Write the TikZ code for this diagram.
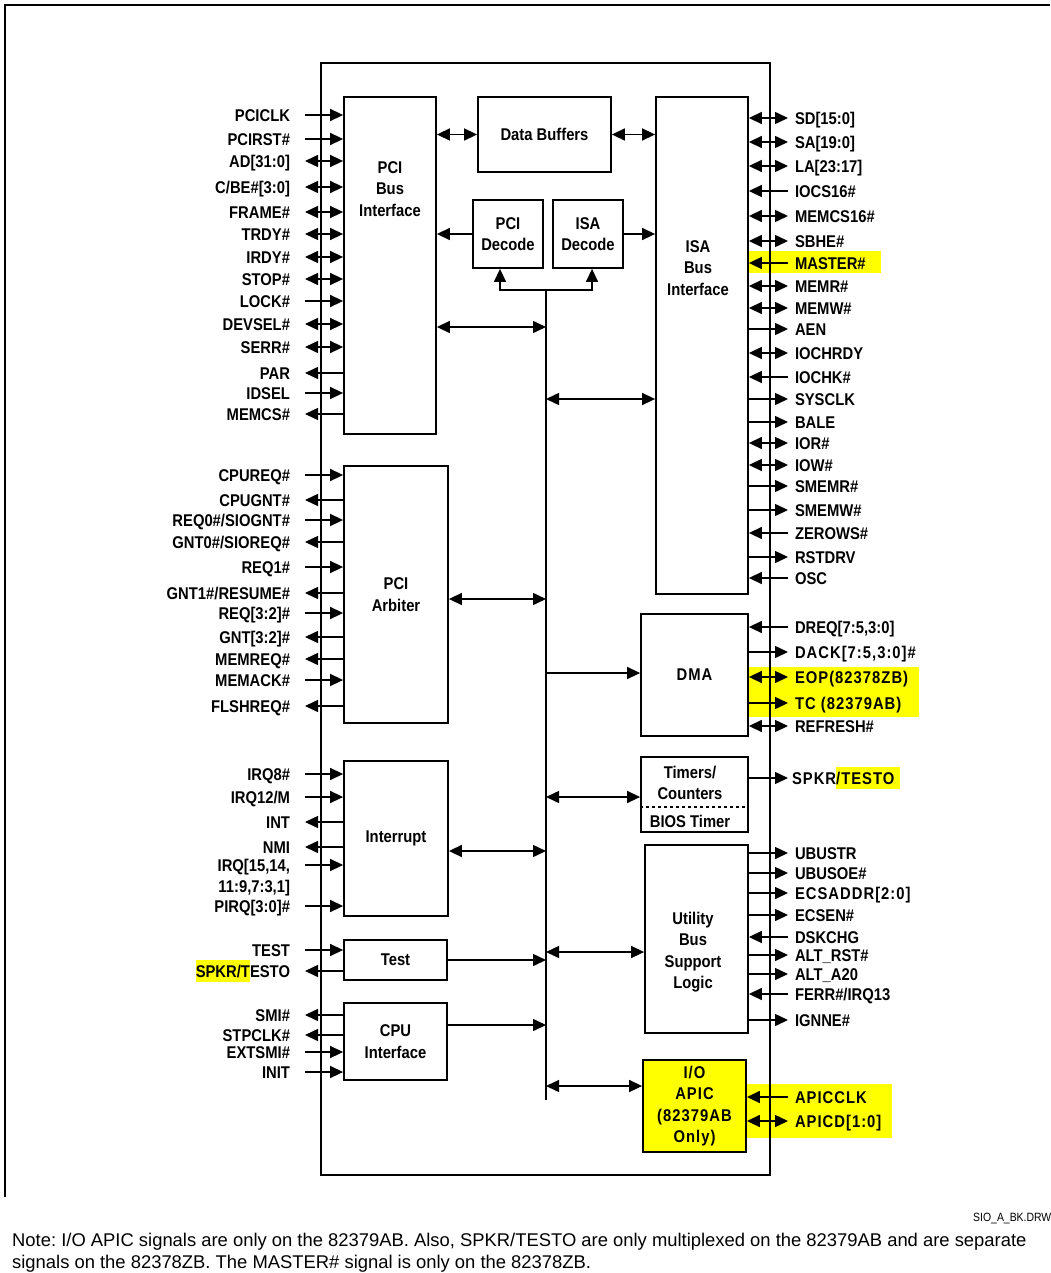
\documentclass[tikz,border=0pt]{standalone}
\usepackage{fontspec}
\setmainfont{Liberation Sans}[FakeStretch=0.87]
\newfontfamily\spaced{Liberation Sans}[FakeStretch=0.87,LetterSpace=6]
\newfontfamily\notefont{Liberation Sans}
\usetikzlibrary{arrows.meta,positioning}
\definecolor{hlyellow}{RGB}{255,255,0}
\newcommand\hlbox[1]{{\setlength\fboxsep{0pt}\colorbox{hlyellow}{\rule[-5pt]{0pt}{22pt}#1}}}
\frenchspacing

\begin{document}
\begin{tikzpicture}[
		x=1pt, y=-1pt,
		>={Triangle[length=13pt,width=12pt]},
		every node/.style={font=\fontsize{17}{21.5}\selectfont\bfseries, align=center},
		box/.style={draw, line width=1.8pt, inner sep=0pt},
		conn/.style={line width=1.5pt},
		lpin/.style={anchor=east, inner sep=0pt, outer ysep=0pt, outer xsep=15pt, text height=12.2pt, text depth=0pt},
		rpin/.style={anchor=west, inner sep=0pt, outer ysep=0pt, outer xsep=7pt, text height=12.2pt, text depth=0pt},
		notetxt/.style={anchor=base west, inner sep=0pt, font=\fontsize{18.4}{22}\selectfont\notefont}
		]
		\useasboundingbox (0,0) rectangle (1050,1273);
		
		% highlighted areas
		\fill[hlyellow] (749,251) rectangle (881,273);
		\fill[hlyellow] (749,667) rectangle (919,717);
		\fill[hlyellow] (747,1084) rectangle (892,1138);
		
		% frames
		\draw[line width=1.8pt] (5,1197) -- (5,5) -- (1050,5);
		\draw[line width=1.6pt] (321,63) rectangle (770,1175);
		
		% blocks
		\node[box, minimum width=92, minimum height=337] (pcibus) at (390,265.5) {};
		\node (pcibustxt) at (390,189) {PCI\\Bus\\Interface};
		\node[box, minimum width=133, minimum height=75] (databuf) at (544.5,134.5) {Data Buffers};
		\node[box, minimum width=70, minimum height=68] (pcidec) at (508,234) {PCI\\Decode};
		\node[box, minimum width=70, minimum height=68] (isadec) at (588,234) {ISA\\Decode};
		\node[box, minimum width=92, minimum height=497] (isabus) at (702,345.5) {};
		\node (isabustxt) at (698,268) {ISA\\Bus\\Interface};
		\node[box, minimum width=104, minimum height=257] (arb) at (396,594.5) {PCI\\Arbiter};
		\node[box, minimum width=104, minimum height=155] (intr) at (396,838.5) {Interrupt};
		\node[box, minimum width=103, minimum height=40] (test) at (395.5,960) {Test};
		\node[box, minimum width=103, minimum height=77] (cpu) at (395.5,1041.5) {CPU\\Interface};
		\node[box, minimum width=107, minimum height=122, font=\fontsize{17}{21.5}\selectfont\spaced\bfseries] (dma) at (694.5,675) {DMA};
		\node[box, minimum width=107, minimum height=75] (timers) at (694.5,794.5) {};
		\node (timerstxt) at (690,783) {Timers/\\Counters};
		\node[outer ysep=4.5pt] (bios) at (690,821) {BIOS Timer};
		\draw[dashed, line width=1.3pt] (timers.west |- bios.north) -- (timers.east |- bios.north);
		\node[box, minimum width=103, minimum height=188] (util) at (696.5,939) {};
		\node (utiltxt) at (693,952) {Utility\\Bus\\Support\\Logic};
		\node[box, fill=hlyellow, minimum width=103, minimum height=92, font=\fontsize{17}{21.5}\selectfont\spaced\bfseries] (apic) at (694.5,1106) {I/O\\APIC\\(82379AB\\Only)};
		
		% internal bus
		\coordinate (bustop) at (546,290);
		\coordinate (busbot) at (546,1100);
		\foreach \n/\y in {tpci/327, tisa/399, tarb/599, tdma/673, ttim/797, tint/851, tutil/952, ttest/960, tcpu/1025, tapic/1086}
		\coordinate (\n) at (546,\y);
		\draw[conn] (bustop) -- (busbot);
		\draw[conn,->] (bustop) -| ([xshift=-8]pcidec.south);
		\draw[conn,->] (bustop) -| ([xshift=4]isadec.south);
		\draw[conn,<->] (databuf.west) -- (databuf.west -| pcibus.east);
		\draw[conn,<->] (databuf.east) -- (databuf.east -| isabus.west);
		\draw[conn,->] (pcidec.west) -- (pcidec.west -| pcibus.east);
		\draw[conn,->] (isadec.east) -- (isadec.east -| isabus.west);
		\draw[conn,<->] (pcibus.east |- tpci) -- (tpci);
		\draw[conn,<->] (tisa) -- (isabus.west |- tisa);
		\draw[conn,<->] (arb.east |- tarb) -- (tarb);
		\draw[conn,->] (tdma) -- (dma.west |- tdma);
		\draw[conn,<->] (ttim) -- (timers.west |- ttim);
		\draw[conn,<->] (intr.east |- tint) -- (tint);
		\draw[conn,<->] (tutil) -- (util.west |- tutil);
		\draw[conn,->] (test.east) -- (ttest);
		\draw[conn,->] (cpu.east |- tcpu) -- (tcpu);
		\draw[conn,<->] (tapic) -- (apic.west |- tapic);
		
		% left side signals
		\foreach \y/\t/\a in {115/PCICLK/<-, 139/PCIRST\#/<-, 161/{AD[31:0]}/<->, 187/{C/BE\#[3:0]}/<->, 212/FRAME\#/<->, 234/TRDY\#/<->, 257/IRDY\#/<->, 279/STOP\#/<->, 301/LOCK\#/<-, 324/DEVSEL\#/<->, 347/SERR\#/<->, 373/PAR/->, 393/IDSEL/<-, 414/MEMCS\#/->}
		{\node[lpin] (l\y) at (305,\y) {\t}; \draw[conn,\a] (pcibus.west |- l\y.east) -- (l\y.east);}
		\foreach \y/\t/\a in {475/CPUREQ\#/<-, 500/CPUGNT\#/->, 520/{REQ0\#/SIOGNT\#}/<-, 542/{GNT0\#/SIOREQ\#}/->, 567/REQ1\#/<-, 593/{GNT1\#/RESUME\#}/->, 613/{REQ[3:2]\#}/<-, 637/{GNT[3:2]\#}/->, 659/MEMREQ\#/->, 680/MEMACK\#/<-, 706/FLSHREQ\#/->}
		{\node[lpin] (l\y) at (305,\y) {\t}; \draw[conn,\a] (arb.west |- l\y.east) -- (l\y.east);}
		\foreach \y/\t/\a in {774/IRQ8\#/<-, 797/{IRQ12/M}/<-, 822/INT/->, 847/NMI/->, 865/{IRQ[15,14,}/<-, 906/{PIRQ[3:0]\#}/<-}
		{\node[lpin] (l\y) at (305,\y) {\t}; \draw[conn,\a] (intr.west |- l\y.east) -- (l\y.east);}
		\node[lpin] (l886) at (305,886) {11:9,7:3,1]};
		\foreach \y/\t/\a in {950/TEST/<-, 971/{\hlbox{SPKR/T}ESTO}/->}
		{\node[lpin] (l\y) at (305,\y) {\t}; \draw[conn,\a] (test.west |- l\y.east) -- (l\y.east);}
		\foreach \y/\t/\a in {1015/SMI\#/->, 1035/STPCLK\#/->, 1052/EXTSMI\#/<-, 1072/INIT/<-}
		{\node[lpin] (l\y) at (305,\y) {\t}; \draw[conn,\a] (cpu.west |- l\y.east) -- (l\y.east);}
		
		% right side signals
		\foreach \y/\t/\a in {118/{SD[15:0]}/<->, 142/{SA[19:0]}/<->, 166/{LA[23:17]}/<->, 191/IOCS16\#/<-, 216/MEMCS16\#/<->, 241/SBHE\#/<->, 263/MASTER\#/<-, 286/MEMR\#/<->, 308/MEMW\#/<->, 329/AEN/->, 353/IOCHRDY/<->, 377/IOCHK\#/<-, 399/SYSCLK/->, 422/BALE/->, 443/IOR\#/<->, 465/IOW\#/<->, 486/SMEMR\#/->, 510/SMEMW\#/->, 533/ZEROWS\#/<-, 557/RSTDRV/->, 578/OSC/<-}
		{\node[rpin] (r\y) at (788,\y) {\t}; \draw[conn,\a] (isabus.east |- r\y.west) -- (r\y.west);}
		\foreach \y/\t/\a in {627/{DREQ[7:5,3:0]}/<-, 652/{\spaced DACK[7:5,3:0]\#}/->, 677/{\spaced EOP(82378ZB)}/<->, 703/{\spaced TC (82379AB)}/->, 726/REFRESH\#/<->}
		{\node[rpin] (r\y) at (788,\y) {\t}; \draw[conn,\a] (dma.east |- r\y.west) -- (r\y.west);}
		\node[rpin, outer xsep=4pt, font=\fontsize{17}{21.5}\selectfont\spaced\bfseries] (r778) at (788,778) {SPKR\hlbox{/TESTO\kern 6pt}};
		\draw[conn,->] (timers.east |- r778.west) -- (r778.west);
		\foreach \y/\t/\a in {853/UBUSTR/->, 873/UBUSOE\#/->, 893/{\spaced ECSADDR[2:0]}/->, 915/ECSEN\#/->, 937/DSKCHG/<-, 955/ALT\_RST\#/->, 974/ALT\_A20/->, 994/{FERR\#/IRQ13}/<-, 1020/IGNNE\#/->}
		{\node[rpin] (r\y) at (788,\y) {\t}; \draw[conn,\a] (util.east |- r\y.west) -- (r\y.west);}
		\foreach \y/\t/\a in {1097/{\spaced APICCLK}/<-, 1121/{\spaced APICD[1:0]}/<->}
		{\node[rpin] (r\y) at (788,\y) {\t}; \draw[conn,\a] (apic.east |- r\y.west) -- (r\y.west);}
		
		% note
		\node[anchor=base west, inner sep=0pt, font=\fontsize{12}{12}\selectfont] (drw) at (973,1221) {SIO\_A\_BK.DRW};
		\node[notetxt] (note1) at (12,1246) {Note: I/O APIC signals are only on the 82379AB. Also, SPKR/TESTO are only multiplexed on the 82379AB and are separate};
		\node[notetxt] (note2) at (12,1268) {signals on the 82378ZB. The MASTER\# signal is only on the 82378ZB.};
		
	\end{tikzpicture}
\end{document}
